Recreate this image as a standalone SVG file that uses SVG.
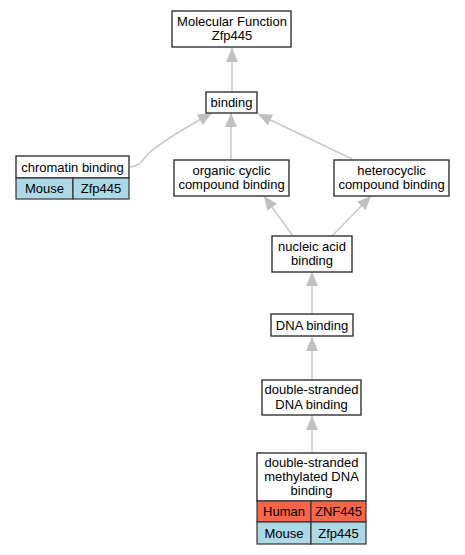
<svg xmlns="http://www.w3.org/2000/svg" width="465" height="555" viewBox="0 0 465 555">
<style>
.box{fill:#fff;stroke:#333;stroke-width:1.4}
.cell{stroke:#333;stroke-width:1.2}
.mouse{fill:#add8e6}
.human{fill:#fa6448}
text{font-family:"Liberation Sans",Arial,sans-serif;font-size:13px;fill:#000;text-anchor:middle}
.edge{fill:none;stroke:#c8c8c8;stroke-width:1.5}
</style>
<defs>
<marker id="ah" markerUnits="userSpaceOnUse" markerWidth="15" markerHeight="12" refX="14" refY="6" orient="auto">
<path d="M0,0 L14,6 L0,12 z" fill="#c0c0c0"/>
</marker>
</defs>
<g id="edges">
<path class="edge" d="M232,92 L232,48" marker-end="url(#ah)"/>
<path class="edge" d="M231,160 L231,113" marker-end="url(#ah)"/>
<path class="edge" d="M352,159 L258,114" marker-end="url(#ah)"/>
<path class="edge" d="M130,167 C142,166 143,158 150,152 C165,140 190,125 212,113" marker-end="url(#ah)"/>
<path class="edge" d="M293,236 L264,196" marker-end="url(#ah)"/>
<path class="edge" d="M332,236 L371,196" marker-end="url(#ah)"/>
<path class="edge" d="M312,314 L312,272" marker-end="url(#ah)"/>
<path class="edge" d="M312,380 L312,337" marker-end="url(#ah)"/>
<path class="edge" d="M312,453 L312,416" marker-end="url(#ah)"/>
</g>
<g id="mf">
<rect class="box" x="172" y="11" width="119" height="36"/>
<text x="232" y="26">Molecular Function</text>
<text x="232" y="40">Zfp445</text>
</g>
<g id="binding">
<rect class="box" x="206" y="92" width="51" height="21"/>
<text x="231.5" y="107">binding</text>
</g>
<g id="chromatin">
<rect class="box" x="16" y="156" width="113" height="22"/>
<text x="72.5" y="171.5">chromatin binding</text>
<rect class="cell mouse" x="16" y="178" width="57" height="21"/>
<rect class="cell mouse" x="73" y="178" width="56" height="21"/>
<text x="44.5" y="193">Mouse</text>
<text x="101" y="193">Zfp445</text>
</g>
<g id="organic">
<rect class="box" x="174" y="160" width="115" height="36"/>
<text x="231.5" y="174.5">organic cyclic</text>
<text x="231.5" y="189">compound binding</text>
</g>
<g id="hetero">
<rect class="box" x="334" y="160" width="115" height="36"/>
<text x="391.5" y="174.5">heterocyclic</text>
<text x="391.5" y="189">compound binding</text>
</g>
<g id="nucleic">
<rect class="box" x="272" y="236" width="80" height="36"/>
<text x="312" y="250.5">nucleic acid</text>
<text x="312" y="265">binding</text>
</g>
<g id="dna">
<rect class="box" x="271" y="314" width="82" height="22"/>
<text x="312" y="329.5">DNA binding</text>
</g>
<g id="dsdna">
<rect class="box" x="262" y="380" width="99" height="35"/>
<text x="311.5" y="394">double-stranded</text>
<text x="311.5" y="408.5">DNA binding</text>
</g>
<g id="methyl">
<rect class="box" x="257" y="453" width="109" height="48"/>
<text x="311.5" y="466.5">double-stranded</text>
<text x="311.5" y="480.5">methylated DNA</text>
<text x="311.5" y="494.5">binding</text>
<rect class="cell human" x="257" y="501" width="54" height="21"/>
<rect class="cell human" x="311" y="501" width="55" height="21"/>
<text x="284" y="516">Human</text>
<text x="338.5" y="516">ZNF445</text>
<rect class="cell mouse" x="257" y="522" width="54" height="22"/>
<rect class="cell mouse" x="311" y="522" width="55" height="22"/>
<text x="284" y="537.5">Mouse</text>
<text x="338.5" y="537.5">Zfp445</text>
</g>
</svg>
